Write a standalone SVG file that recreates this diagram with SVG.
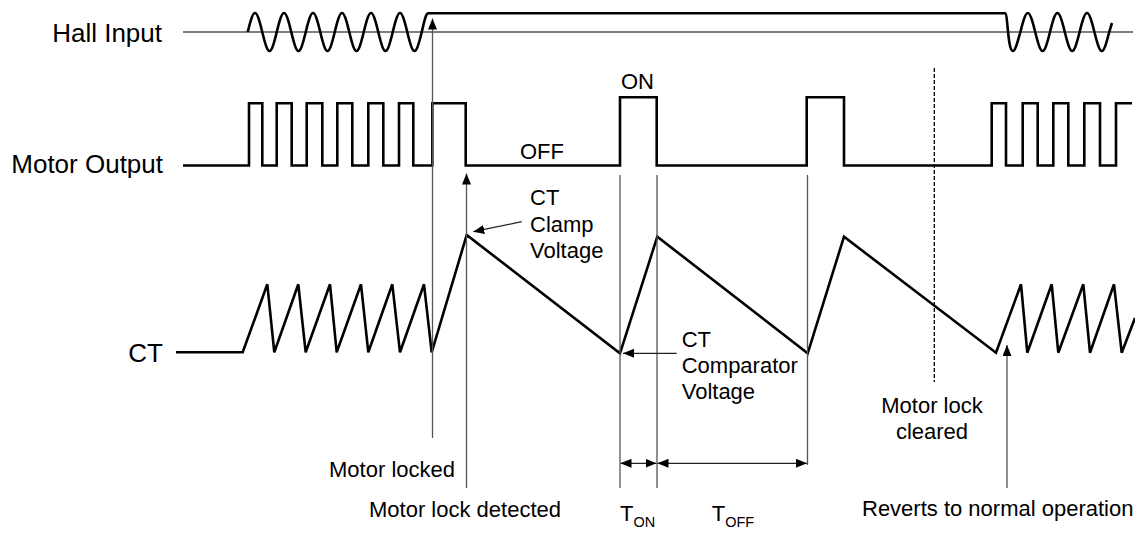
<svg xmlns="http://www.w3.org/2000/svg" width="1135" height="533" viewBox="0 0 1135 533">
<style>
text{font-family:"Liberation Sans",Arial,sans-serif;fill:#000}
.lbl{font-size:26px;text-anchor:end}
.t{font-size:22px}
.mid{text-anchor:middle}
.sig{fill:none;stroke:#000;stroke-width:2.6}
.guide{fill:none;stroke:#555;stroke-width:1.3}
.arr{fill:none;stroke:#222;stroke-width:1.2}
.dash{fill:none;stroke:#000;stroke-width:1.3;stroke-dasharray:4 2}
</style>
<defs>
<marker id="ah" viewBox="0 0 11 9" refX="11" refY="4.5" markerWidth="11" markerHeight="9" markerUnits="userSpaceOnUse" orient="auto-start-reverse">
<path d="M0,0 L11,4.5 L0,9 z" fill="#000"/>
</marker>
</defs>

<g id="hall">
<line class="guide" x1="183" y1="32" x2="1133" y2="32" stroke="#666"/>
<path class="sig" d="M 247.75,32 C 253.9,6.7 256.1,6.7 262.25,32 S 270.6,57.3 276.75,32 S 285.1,6.7 291.25,32 S 299.6,57.3 305.75,32 S 314.1,6.7 320.25,32 S 328.6,57.3 334.75,32 S 343.1,6.7 349.25,32 S 357.6,57.3 363.75,32 S 372.1,6.7 378.25,32 S 386.6,57.3 392.75,32 S 401.1,6.7 407.25,32 S 415.6,57.3 421.75,32 C 424.5,21 425.5,13.3 428.5,13.3 H 1005 C 1008,13.3 1007.5,51 1013,51 C 1015.5,51 1018,40 1020.4,32 C 1026.7,6.7 1028.9,6.7 1035.2,32 S 1043.7,57.3 1050,32 S 1058.5,6.7 1064.8,32 S 1073.3,57.3 1079.6,32 S 1088.1,6.7 1094.4,32 S 1102.9,57.3 1109.2,32 L 1112,23"/>
<text class="lbl" x="162" y="42">Hall Input</text>
</g>

<g id="motor-output">
<path class="sig" d="M 183,165.5 H 249 V 103.3 H 262.3 V 165.5 H 276.7 V 103.3 H 291.7 V 165.5 H 306.7 V 103.3 H 322.3 V 165.5 H 337.3 V 103.3 H 352.3 V 165.5 H 368.3 V 103.3 H 383.3 V 165.5 H 399 V 103.3 H 413.3 V 165.5 H 432.3 V 103.3 H 465.7 V 165.5 H 620 V 97.3 H 656.7 V 165.5 H 806.7 V 97.3 H 844 V 165.5 H 991.7 V 103.3 H 1006 V 165.5 H 1022.7 V 103.3 H 1037.7 V 165.5 H 1053.3 V 103.3 H 1068.3 V 165.5 H 1084.3 V 103.3 H 1100 V 165.5 H 1116 V 103.3 H 1132"/>
<text class="lbl" x="163" y="173">Motor Output</text>
<text class="t mid" x="637.5" y="89.3">ON</text>
<text class="t mid" x="542" y="159">OFF</text>
</g>

<g id="ct">
<path class="sig" d="M 176,352.3 H 242.7 L 267.3,284.3 L 274.3,352.3 L 298.3,284.3 L 305.7,352.3 L 330,284.3 L 336.7,352.3 L 361,284.3 L 368.3,352.3 L 392.3,284.3 L 400,352.3 L 424,284.3 L 431.7,352.3 L 466.7,235 L 620,353.3 L 657.3,236.7 L 807.7,353.3 L 844,236.7 L 996,352.7 L 1021,284.3 L 1027.3,352.7 L 1051.7,284.3 L 1058.3,352.7 L 1083.3,284.3 L 1090,352.7 L 1114,284.3 L 1121.7,352.7 L 1135,318"/>
<text class="lbl" x="163" y="361.5">CT</text>
</g>

<g id="connectors">
<line class="guide" x1="432.5" y1="438" x2="432.5" y2="18.5" marker-end="url(#ah)"/>
<line class="guide" x1="466.5" y1="488" x2="466.5" y2="173.5" marker-end="url(#ah)"/>
<line class="guide" x1="620" y1="175" x2="620" y2="488"/>
<line class="guide" x1="657" y1="175" x2="657" y2="488"/>
<line class="guide" x1="807.5" y1="175" x2="807.5" y2="465"/>
<line class="guide" x1="1007" y1="488" x2="1007" y2="345" marker-end="url(#ah)"/>
<line class="dash" x1="934.3" y1="68" x2="934.3" y2="382"/>
<line class="arr" x1="521.7" y1="221.7" x2="473.3" y2="231.7" marker-end="url(#ah)"/>
<line class="arr" x1="676.7" y1="353.3" x2="623" y2="353.3" marker-end="url(#ah)"/>
<line class="arr" x1="620.5" y1="463.3" x2="656.5" y2="463.3" marker-start="url(#ah)" marker-end="url(#ah)"/>
<line class="arr" x1="657.5" y1="463.3" x2="807" y2="463.3" marker-start="url(#ah)" marker-end="url(#ah)"/>
</g>

<g id="annotations">
<text class="t" x="530" y="205.3">CT</text>
<text class="t" x="530" y="231.7">Clamp</text>
<text class="t" x="530" y="257.5">Voltage</text>
<text class="t" x="681.7" y="346.7">CT</text>
<text class="t" x="681.7" y="373">Comparator</text>
<text class="t" x="681.7" y="398.5">Voltage</text>
<text class="t mid" x="932" y="412.5">Motor lock</text>
<text class="t mid" x="932" y="438.5">cleared</text>
<text class="t" x="455" y="476.7" text-anchor="end">Motor locked</text>
<text class="t mid" x="465" y="517">Motor lock detected</text>
<text class="t" x="620" y="521">T<tspan font-size="14.5" dy="6">ON</tspan></text>
<text class="t" x="711.7" y="521">T<tspan font-size="14.5" dy="6">OFF</tspan></text>
<text class="t" x="862" y="516">Reverts to normal operation</text>
</g>
</svg>
